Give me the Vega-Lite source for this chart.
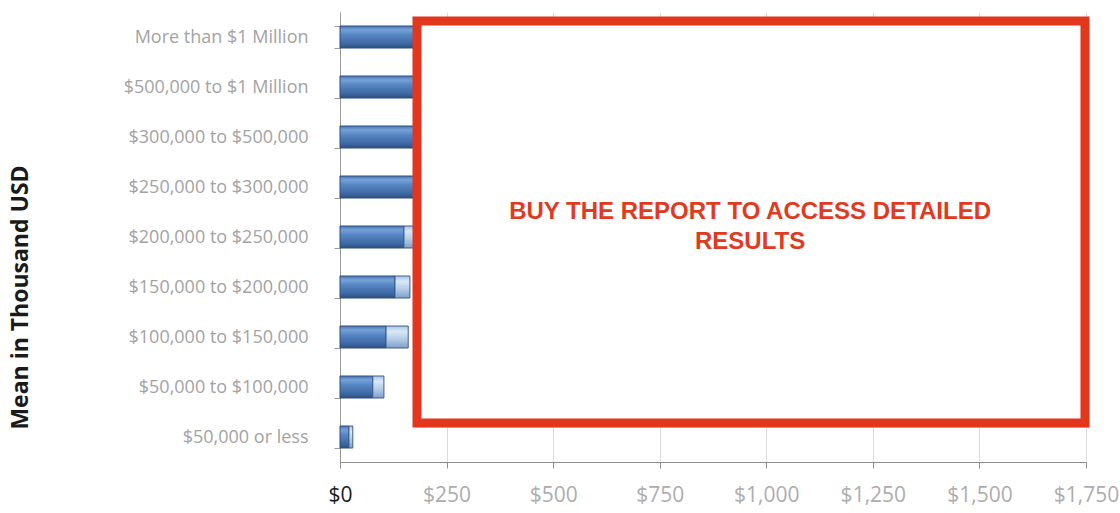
{
  "$schema": "https://vega.github.io/schema/vega-lite/v6.json",
  "width": 746,
  "height": 450,
  "autosize": {"type": "none"},
  "padding": {"left": 340, "top": 12, "right": 34, "bottom": 51},
  "background": "white",
  "config": {"view": {"stroke": null}},
  "datasets": {
    "bars": [
      {"cat": "More than $1 Million", "dark": 1050, "total": 1620},
      {"cat": "$500,000 to $1 Million", "dark": 520, "total": 720},
      {"cat": "$300,000 to $500,000", "dark": 330, "total": 430},
      {"cat": "$250,000 to $300,000", "dark": 240, "total": 300},
      {"cat": "$200,000 to $250,000", "dark": 150, "total": 190},
      {"cat": "$150,000 to $200,000", "dark": 129, "total": 164},
      {"cat": "$100,000 to $150,000", "dark": 108, "total": 160},
      {"cat": "$50,000 to $100,000", "dark": 77, "total": 103},
      {"cat": "$50,000 or less", "dark": 21, "total": 30}
    ],
    "box": [
      {"x": 180.6, "x2": 1747.6, "y": 0.18, "y2": 8.22, "label": "BUY THE REPORT TO ACCESS DETAILED\nRESULTS", "tx": 962, "ty": 4.0}
    ]
  },
  "layer": [
    {
      "data": {"name": "bars"},
      "encoding": {
        "y": {
          "field": "cat",
          "type": "nominal",
          "sort": null,
          "scale": {"paddingInner": 0.56, "paddingOuter": 0.28},
          "axis": {
            "title": "Mean in Thousand USD",
            "titleFont": "Open Sans",
            "titleFontWeight": "bold",
            "titleFontSize": 23,
            "titleColor": "#1a1a1a",
            "titleX": -320,
            "titleY": 285,
            "titleAngle": -90,
            "titleAlign": "center",
            "titleBaseline": "middle",
            "labelFont": "Open Sans",
            "labelFontSize": 18,
            "labelColor": "#a3a3a3",
            "labelPadding": 26,
            "labelLimit": 400,
            "tickBand": "extent",
            "tickSize": 6,
            "tickColor": "#9a9a9a",
            "domainColor": "#9a9a9a",
            "grid": false
          }
        }
      },
      "layer": [
        {
          "mark": {
            "type": "bar",
            "stroke": "#2c4c7c",
            "strokeWidth": 1,
            "fill": {
              "gradient": "linear",
              "x1": 0, "y1": 0, "x2": 0, "y2": 1,
              "stops": [
                {"offset": 0, "color": "#4a78b4"},
                {"offset": 0.18, "color": "#76a2d8"},
                {"offset": 0.4, "color": "#5686c4"},
                {"offset": 0.8, "color": "#3e68a2"},
                {"offset": 1, "color": "#2c4f82"}
              ]
            }
          },
          "encoding": {
            "x": {
              "field": "dark",
              "type": "quantitative",
              "scale": {"domain": [0, 1750], "nice": false},
              "axis": {
                "title": null,
                "values": [0, 250, 500, 750, 1000, 1250, 1500, 1750],
                "format": "$,.0f",
                "labelFont": "Open Sans",
                "labelFontSize": 21,
                "labelColor": {"expr": "datum.value == 0 ? '#1a1a1a' : '#adadad'"},
                "labelPadding": 16,
                "tickSize": 6,
                "tickColor": "#8c8c8c",
                "domainColor": "#8c8c8c",
                "grid": true,
                "gridColor": "#dcdcdc",
                "labelFlush": false
              }
            }
          }
        },
        {
          "mark": {
            "type": "bar",
            "stroke": "#3e5f8c",
            "strokeWidth": 1,
            "fill": {
              "gradient": "linear",
              "x1": 0, "y1": 0, "x2": 0, "y2": 1,
              "stops": [
                {"offset": 0, "color": "#aac5e4"},
                {"offset": 0.25, "color": "#d9e7f5"},
                {"offset": 0.6, "color": "#b3cbe6"},
                {"offset": 1, "color": "#7f9fc8"}
              ]
            }
          },
          "encoding": {
            "x": {"field": "dark", "type": "quantitative"},
            "x2": {"field": "total"}
          }
        }
      ]
    },
    {
      "data": {"name": "box"},
      "layer": [
        {
          "mark": {"type": "rect", "fill": null, "stroke": "#7a7a7a", "strokeWidth": 9, "strokeOpacity": 0.3},
          "encoding": {
            "x": {"field": "x", "type": "quantitative"},
            "x2": {"field": "x2"},
            "y": {"field": "y", "type": "quantitative", "scale": {"domain": [0, 9], "reverse": true}, "axis": null},
            "y2": {"field": "y2"},
            "xOffset": {"value": 4},
            "yOffset": {"value": 4}
          }
        },
        {
          "mark": {"type": "rect", "fill": "white", "stroke": "#e2371d", "strokeWidth": 9},
          "encoding": {
            "x": {"field": "x", "type": "quantitative"},
            "x2": {"field": "x2"},
            "y": {"field": "y", "type": "quantitative", "scale": {"domain": [0, 9], "reverse": true}, "axis": null},
            "y2": {"field": "y2"}
          }
        },
        {
          "mark": {
            "type": "text",
            "font": "Liberation Sans",
            "fontWeight": "bold",
            "fontSize": 24,
            "color": "#e03a22",
            "align": "center",
            "baseline": "middle",
            "lineBreak": "\n",
            "lineHeight": 30
          },
          "encoding": {
            "x": {"field": "tx", "type": "quantitative"},
            "y": {"field": "ty", "type": "quantitative", "scale": {"domain": [0, 9], "reverse": true}, "axis": null},
            "text": {"field": "label"}
          }
        }
      ]
    }
  ],
  "resolve": {"scale": {"y": "independent"}, "axis": {"y": "independent"}}
}
